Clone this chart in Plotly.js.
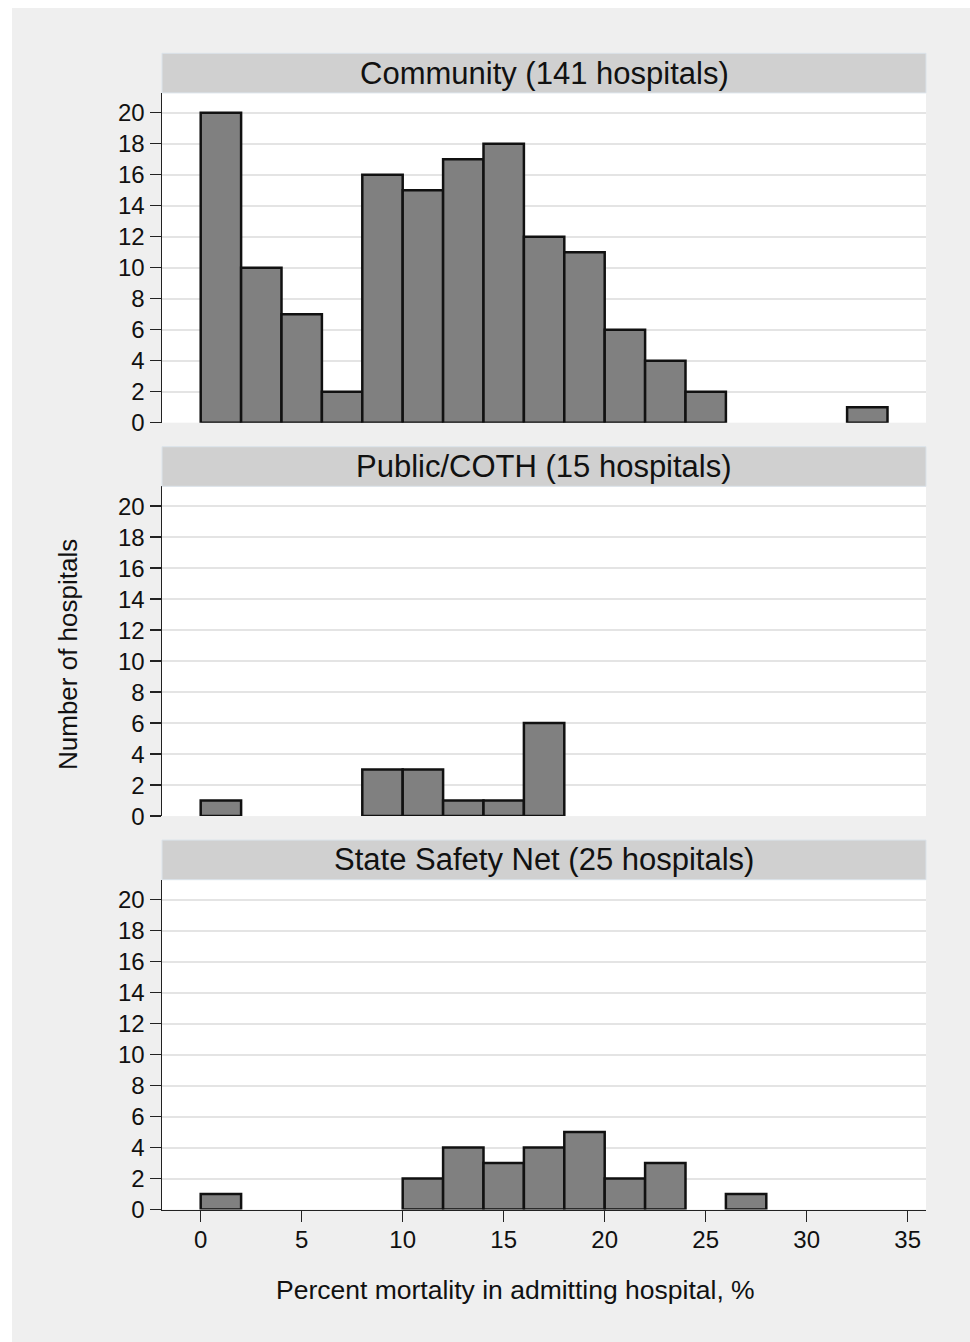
<!DOCTYPE html>
<html>
<head>
<meta charset="utf-8">
<script src="https://cdn.plot.ly/plotly-3.0.1.min.js"></script>
<style>html,body{margin:0;padding:0;background:#fff;}#chart{width:970px;height:1342px;}</style>
</head>
<body>
<div id="chart"></div>
<script>
// Histogram bins (start of each 2-point-wide bin) and counts per panel
const binStarts = [0, 2, 4, 6, 8, 10, 12, 14, 16, 18, 20, 22, 24, 26, 28, 30, 32];
const communityCounts = [20, 10, 7, 2, 16, 15, 17, 18, 12, 11, 6, 4, 2, 0, 0, 0, 1];
const publicCothCounts = [1, 0, 0, 0, 3, 3, 1, 1, 6, 0, 0, 0, 0, 0, 0, 0, 0];
const safetyNetCounts = [1, 0, 0, 0, 0, 2, 4, 3, 4, 5, 2, 3, 0, 1, 0, 0, 0];
const panelTitles = ["Community (141 hospitals)", "Public/COTH (15 hospitals)", "State Safety Net (25 hospitals)"];
const xTickVals = [0, 5, 10, 15, 20, 25, 30, 35];
const yTickVals = [0, 2, 4, 6, 8, 10, 12, 14, 16, 18, 20];
const binWidth = 2;

const W = 970, H = 1342;
const px = v => v / W;
const py = v => 1 - v / H;

const FONT = "Liberation Sans, Arial, sans-serif";
const panels = [
  {strip: [53.3, 92.9], plot: [92.9, 422.7]},
  {strip: [446.7, 486.3], plot: [486.3, 816.1]},
  {strip: [840.1, 879.7], plot: [879.7, 1209.5]}
];
const xLeft = 162, xRight = 926;
const allCounts = [communityCounts, publicCothCounts, safetyNetCounts];

const traces = allCounts.map((counts, i) => {
  const xs = [], ys = [];
  counts.forEach((c, j) => { if (c > 0) { xs.push(binStarts[j] + binWidth / 2); ys.push(c); } });
  return {
    type: 'bar', x: xs, y: ys, width: binWidth,
    xaxis: i === 0 ? 'x' : 'x' + (i + 1),
    yaxis: i === 0 ? 'y' : 'y' + (i + 1),
    marker: {color: '#808080', line: {color: '#111111', width: 2.5}},
    hoverinfo: 'x+y', showlegend: false
  };
});

const layout = {
  width: W, height: H,
  margin: {l: 0, r: 0, t: 0, b: 0},
  paper_bgcolor: '#efefef',
  plot_bgcolor: '#ffffff',
  font: {family: FONT, color: '#111111'},
  bargap: 0,
  showlegend: false,
  shapes: [
    {type: 'rect', xref: 'paper', yref: 'paper', x0: 0, x1: px(12), y0: 0, y1: 1, fillcolor: '#ffffff', line: {width: 0}, layer: 'below'},
    {type: 'rect', xref: 'paper', yref: 'paper', x0: 0, x1: 1, y0: py(8), y1: 1, fillcolor: '#ffffff', line: {width: 0}, layer: 'below'}
  ],
  annotations: []
};

const xRange = [(xLeft - 200.7) / 20.2, (xRight - 200.7) / 20.2];
const yTop = (422.7 - 92.9) / 15.5;

panels.forEach((p, i) => {
  const sfx = i === 0 ? '' : String(i + 1);
  const isBottom = i === 2;
  layout['xaxis' + sfx] = {
    domain: [px(xLeft), px(xRight)],
    range: xRange,
    anchor: 'y' + sfx,
    showgrid: false, zeroline: false,
    showline: isBottom, linecolor: '#222222', linewidth: 1.5,
    ticks: isBottom ? 'outside' : '', ticklen: 11, tickwidth: 1.5, tickcolor: '#222222',
    tickvals: xTickVals, ticktext: xTickVals.map(String),
    showticklabels: isBottom,
    ticklabelstandoff: -3,
    tickfont: {size: 24, family: FONT, color: '#111111'},
    fixedrange: true
  };
  layout['yaxis' + sfx] = {
    domain: [py(p.plot[1]), py(p.plot[0])],
    range: [0, yTop],
    anchor: 'x' + sfx,
    showgrid: true, gridcolor: '#e4e4e4', gridwidth: 2,
    zeroline: false,
    showline: true, linecolor: '#222222', linewidth: 1.5,
    ticks: 'outside', ticklen: 11, tickwidth: 1.5, tickcolor: '#222222',
    tickvals: yTickVals, ticktext: yTickVals.map(String),
    tickfont: {size: 24, family: FONT, color: '#111111'},
    fixedrange: true
  };
  layout.shapes.push({
    type: 'rect', xref: 'paper', yref: 'paper',
    x0: px(xLeft), x1: px(xRight), y0: py(p.strip[1]), y1: py(p.strip[0]),
    fillcolor: '#d0d0d0', line: {color: '#dbe3ea', width: 1}
  });
  layout.annotations.push({
    xref: 'paper', yref: 'paper',
    x: px((xLeft + xRight) / 2), y: py((p.strip[0] + p.strip[1]) / 2),
    xanchor: 'center', yanchor: 'middle', showarrow: false,
    text: panelTitles[i], font: {size: 31, family: FONT, color: '#111111'}
  });
});

layout.annotations.push({
  xref: 'paper', yref: 'paper', x: px(515.5), y: py(1290),
  xanchor: 'center', yanchor: 'middle', showarrow: false,
  text: 'Percent mortality in admitting hospital, %',
  font: {size: 26.5, family: FONT, color: '#111111'}
});
layout.annotations.push({
  xref: 'paper', yref: 'paper', x: px(68), y: py(655),
  xanchor: 'center', yanchor: 'middle', showarrow: false, textangle: -90,
  text: 'Number of hospitals',
  font: {size: 26, family: FONT, color: '#111111'}
});

Plotly.newPlot('chart', traces, layout, {displayModeBar: false, staticPlot: true});
</script>
</body>
</html>
